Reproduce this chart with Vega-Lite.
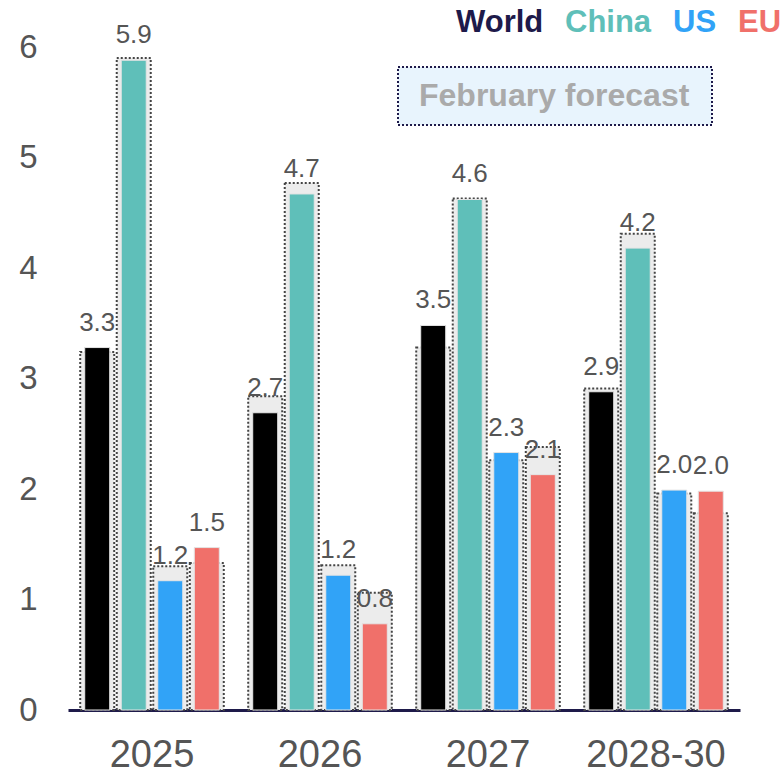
{
  "$schema": "https://vega.github.io/schema/vega-lite/v6.json",
  "width": 672,
  "height": 663,
  "autosize": {"type": "none"},
  "padding": {"left": 68, "top": 47, "right": 42, "bottom": 63},
  "background": "white",
  "config": {"view": {"stroke": null}, "font": "Liberation Sans", "legend": {"strokeDash": [2, 2], "strokeWidth": 2}},
  "data": {
    "values": [
      {"year": "2025", "series": "World", "value": 3.28, "forecast": 3.24},
      {"year": "2025", "series": "China", "value": 5.88, "forecast": 5.9},
      {"year": "2025", "series": "US", "value": 1.17, "forecast": 1.3},
      {"year": "2025", "series": "EU", "value": 1.47, "forecast": 1.33},
      {"year": "2026", "series": "World", "value": 2.69, "forecast": 2.84},
      {"year": "2026", "series": "China", "value": 4.67, "forecast": 4.77},
      {"year": "2026", "series": "US", "value": 1.22, "forecast": 1.31},
      {"year": "2026", "series": "EU", "value": 0.78, "forecast": 1.06},
      {"year": "2027", "series": "World", "value": 3.48, "forecast": 3.28},
      {"year": "2027", "series": "China", "value": 4.62, "forecast": 4.63},
      {"year": "2027", "series": "US", "value": 2.33, "forecast": 2.26},
      {"year": "2027", "series": "EU", "value": 2.13, "forecast": 2.38},
      {"year": "2028-30", "series": "World", "value": 2.88, "forecast": 2.91},
      {"year": "2028-30", "series": "China", "value": 4.18, "forecast": 4.31},
      {"year": "2028-30", "series": "US", "value": 1.99, "forecast": 1.96},
      {"year": "2028-30", "series": "EU", "value": 1.98, "forecast": 1.78}
    ]
  },
  "encoding": {
    "x": {
      "field": "year", "type": "nominal", "sort": null,
      "scale": {"paddingInner": 0, "paddingOuter": 0},
      "axis": {
        "title": null, "labelAngle": 0, "ticks": false,
        "domainColor": "#1e1a4a", "domainWidth": 3,
        "labelFontSize": 38, "labelColor": "#555555", "labelPadding": 26,
        "labelFont": "Liberation Sans"
      }
    },
    "xOffset": {
      "field": "series", "type": "nominal", "sort": ["World", "China", "US", "EU"],
      "scale": {"paddingInner": 0.07, "paddingOuter": 0.335}
    }
  },
  "layer": [
    {
      "mark": {"type": "bar", "width": 34, "fill": "#ececec", "stroke": "#444444", "strokeWidth": 2},
      "encoding": {
        "y": {
          "field": "forecast", "type": "quantitative",
          "scale": {"domain": [0, 6], "nice": false},
          "axis": {
            "title": null, "domain": false, "ticks": false, "grid": false,
            "values": [0, 1, 2, 3, 4, 5, 6], "format": "d",
            "labelFontSize": 33, "labelColor": "#555555", "labelPadding": 31,
            "labelFont": "Liberation Sans"
          }
        },
        "strokeDash": {
          "datum": "February forecast", "type": "nominal",
          "scale": {"domain": ["February forecast"], "range": [[2, 2]]},
          "legend": {
            "orient": "none", "legendX": 330, "legendY": 20,
            "title": "\u2800", "titleOrient": "right", "titleFontSize": 10, "titlePadding": 3,
            "symbolSize": 0, "symbolOpacity": 0, "symbolStrokeWidth": 0,
            "labelOffset": -24, "padding": 13,
            "labelFontSize": 32, "labelFontWeight": "bold", "labelColor": "#aaaaaa",
            "labelFont": "Liberation Sans", "labelLimit": 500,
            "fillColor": "#e8f4fd", "strokeColor": "#1e1a4a"
          }
        }
      }
    },
    {
      "mark": {"type": "bar", "width": 25, "stroke": "#e4e4e4", "strokeWidth": 1},
      "encoding": {
        "y": {"field": "value", "type": "quantitative"},
        "color": {
          "field": "series", "type": "nominal", "sort": ["World", "China", "US", "EU"],
          "scale": {"domain": ["World", "China", "US", "EU"], "range": ["#000000", "#5fbfb9", "#31a3f7", "#f0706a"]},
          "legend": {
            "orient": "none", "legendX": 388, "legendY": -40, "direction": "horizontal",
            "title": null, "symbolSize": 0, "symbolOpacity": 0, "symbolStrokeWidth": 0,
            "labelOffset": -31, "padding": 0, "columnPadding": 21,
            "labelFontSize": 31, "labelFontWeight": "bold", "labelFont": "Liberation Sans",
            "labelColor": {"expr": "datum.value === 'World' ? '#1e1a4a' : scale('color', datum.value)"}
          }
        }
      }
    },
    {
      "mark": {"type": "text", "dy": -17, "baseline": "alphabetic", "fontSize": 26, "color": "#555555", "font": "Liberation Sans"},
      "encoding": {
        "y": {"field": "value", "type": "quantitative"},
        "text": {"field": "value", "type": "quantitative", "format": ".1f"}
      }
    }
  ]
}
